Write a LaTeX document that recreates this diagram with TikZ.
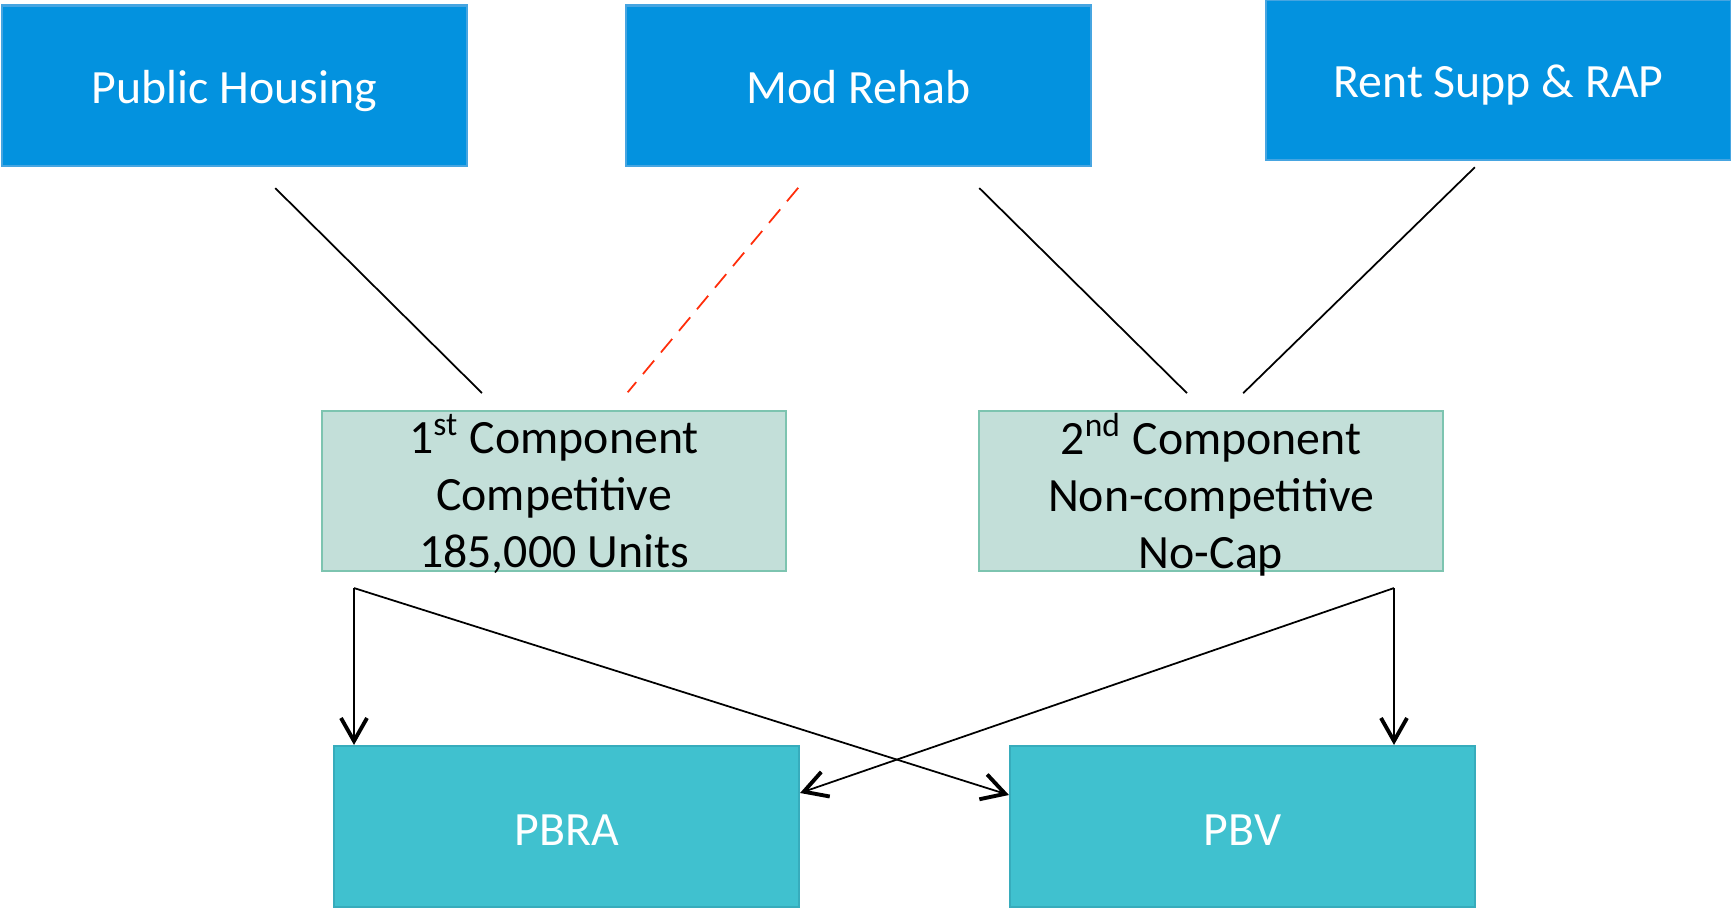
\documentclass[tikz,border=0pt]{standalone}
\usepackage{fontspec}
\setmainfont{Carlito}
\usepackage{xcolor}
\usepackage{tikz}
\usetikzlibrary{arrows.meta,positioning,calc}

\definecolor{progblue}{RGB}{3,146,223}
\definecolor{progedge}{RGB}{70,165,225}
\definecolor{compfill}{RGB}{195,223,217}
\definecolor{compedge}{RGB}{125,196,176}
\definecolor{outfill}{RGB}{64,193,207}
\definecolor{outedge}{RGB}{55,172,188}
\definecolor{dashred}{RGB}{255,45,10}

\begin{document}
\begin{tikzpicture}[
    every node/.style={font=\fontsize{13.6}{16}\selectfont},
    prog/.style={draw=progedge, line width=0.6pt, fill=progblue, text=white, minimum width=4.65cm, minimum height=1.605cm, inner sep=0pt, text height=10pt, text depth=0pt},
    comp/.style={draw=compedge, line width=0.6pt, fill=compfill, minimum width=4.64cm, minimum height=1.6cm, align=center, inner sep=0pt, font=\fontsize{13.6}{16.2}\selectfont},
    outbox/.style={draw=outedge, line width=0.6pt, fill=outfill, text=white, minimum width=4.65cm, minimum height=1.61cm, inner sep=0pt, text height=11pt, text depth=0pt},
    feed/.style={line width=0.5pt, black},
    flow/.style={line width=0.5pt, -{Straight Barb[length=2.3mm,width=2.6mm,line width=1.1pt]}}
  ]
        \useasboundingbox (0,0) rectangle (17.31,9.09);
        % programs
        \node[prog] (ph) at (2.345,8.2325) {Public Housing};
        \node[prog] (mr) at (8.585,8.2325) {Mod Rehab};
        \node[prog] (rs) at (14.985,8.29) {Rent Supp \& RAP};
        % components
        \node[comp] (c1) at (5.54,4.18) {\raisebox{-6pt}[0pt][0pt]{\begin{tabular}{@{}c@{}}1\textsuperscript{st} Component\\ Competitive\\ 185,000 Units\end{tabular}}};
        \node[comp] (c2) at (12.11,4.18) {\raisebox{-6pt}[0pt][0pt]{\begin{tabular}{@{}c@{}}2\textsuperscript{nd} Component\\ Non-competitive\\ No-Cap\end{tabular}}};
        % outcomes
        \node[outbox] (pbra) at (5.665,0.825) {PBRA};
        \node[outbox] (pbv) at (12.425,0.825) {PBV};
        % conversions
        \draw[feed, shorten <=0.3cm, shorten >=0.24cm] ([xshift=0.195cm]ph.south) -- ([xshift=-0.55cm]c1.north);
        \draw[feed, dashred, dash pattern=on 5pt off 3pt, shorten <=0.27cm, shorten >=0.23cm] ([xshift=-0.43cm]mr.south) -- ([xshift=0.59cm]c1.north);
        \draw[feed, shorten <=0.3cm, shorten >=0.24cm] ([xshift=0.995cm]mr.south) -- ([xshift=-0.07cm]c2.north);
        \draw[feed, shorten <=0.086cm, shorten >=0.24cm] ([xshift=-0.175cm]rs.south) -- ([xshift=0.15cm]c2.north);
        \coordinate (c1out) at ([xshift=-2cm,yshift=-0.16cm]c1.south);
        \coordinate (c2out) at ([xshift=1.83cm,yshift=-0.16cm]c2.south);
        \draw[flow] (c1out) -- (c1out |- pbra.north);
        \draw[flow] (c1out) -- ([yshift=0.315cm]pbv.west);
        \draw[flow] (c2out) -- ([yshift=0.335cm]pbra.east);
        \draw[flow] (c2out) -- (c2out |- pbv.north);
      \end{tikzpicture}
\end{document}
